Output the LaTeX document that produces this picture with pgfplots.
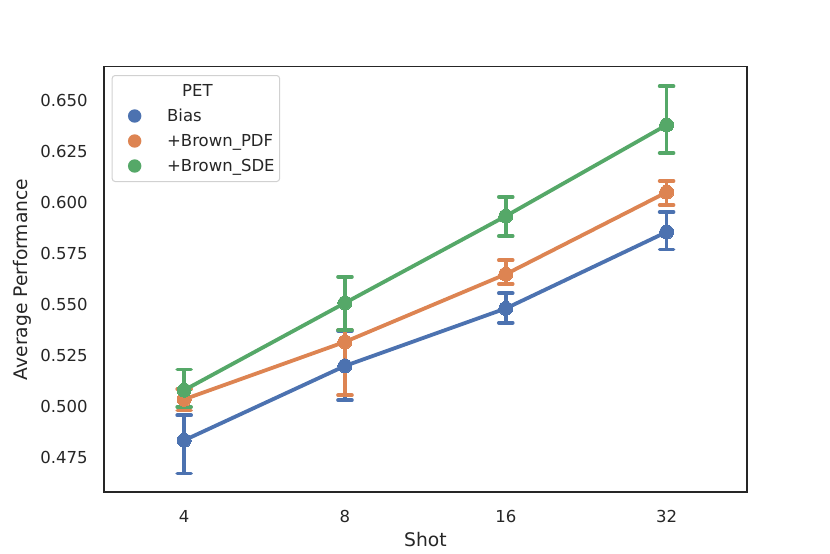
\documentclass[border=0pt]{standalone}
\usepackage{pgfplots}
\pgfplotsset{compat=1.18}
\usepackage{pgfplotstable}
\usepackage{fontspec}
\setmainfont{DejaVu Sans}
\definecolor{sbblue}{HTML}{4C72B0}
\definecolor{sborange}{HTML}{DD8452}
\definecolor{sbgreen}{HTML}{55A868}
\definecolor{axgray}{HTML}{262626}

\pgfplotstableread{
x y ep em
0 0.4833 0.0123 0.0163
1 0.5198 0.0172 0.0168
2 0.5480 0.0075 0.0070
3 0.5855 0.0098 0.0085
}\bias
\pgfplotstableread{
x y ep em
0 0.5034 0.0050 0.0054
1 0.5316 0.0060 0.0262
2 0.5648 0.0069 0.0048
3 0.6050 0.0055 0.0063
}\pdf
\pgfplotstableread{
x y ep em
0 0.5079 0.0101 0.0082
1 0.5507 0.0128 0.0134
2 0.5933 0.0094 0.0098
3 0.6380 0.0190 0.0137
}\sde

\pgfplotsset{myerr/.style={line width=3.8bp, mark=*, mark size=7bp,
    mark options={fill=#1, draw=#1, line width=0pt}, color=#1,
    error bars/.cd, y dir=both, y explicit,
    error bar style={line width=3.6bp, color=#1},
    error mark options={rotate=90, line width=3.6bp, mark size=7bp, color=#1, line cap=round}}}

\begin{document}
\begin{tikzpicture}[font=\fontsize{16.5bp}{19bp}\selectfont]
\begin{axis}[
  name=ax,
  scale only axis,
  width=643.25bp, height=425.8bp,
  xmin=-0.5, xmax=3.5,
  ymin=0.4578, ymax=0.6667,
  xtick={0,1,2,3},
  xticklabels={4,8,16,32},
  ytick={0.475,0.5,0.525,0.55,0.575,0.6,0.625,0.65},
  yticklabels={0.475,0.500,0.525,0.550,0.575,0.600,0.625,0.650},
  major tick length=0pt,
  axis line style={draw=axgray, line width=1.8bp},
  xticklabel style={anchor=base, inner sep=0pt, yshift=-29.7bp, text=axgray},
  yticklabel style={anchor=east, inner sep=0pt, xshift=-16bp, text=axgray},
  /pgf/number format/assume math mode=true,
  xlabel={Shot},
  ylabel={Average Performance},
  xlabel style={at={(axis description cs:0.5,-0.1284)}, anchor=base, inner sep=0pt, text=axgray, font=\fontsize{18.7bp}{22bp}\selectfont},
  ylabel style={at={(axis description cs:-0.126,0.5)}, anchor=center, inner sep=0pt, text=axgray, font=\fontsize{18.7bp}{22bp}\selectfont},
  legend style={
    at={(axis description cs:0.0123,0.980)}, anchor=north west,
    draw=black!18, line width=1bp, rounded corners=3bp, fill=white,
    inner xsep=1bp, inner ysep=3bp, row sep=0pt, column sep=0pt,
    nodes={inner sep=0pt, minimum height=25bp, text=axgray},
  },
  legend cell align=left,
  legend image code/.code={\path[draw=none, fill=none] (0bp,-6.5bp) rectangle (54bp,6.5bp); \fill[draw=none] (21.5bp,0bp) circle (6.7bp);},
]
\addlegendimage{empty legend}
\addlegendentry{\hspace*{15bp}PET}
\addplot[myerr=sbblue] table[x=x, y=y, y error plus=ep, y error minus=em] {\bias};
\addlegendentry{Bias}
\addplot[myerr=sborange] table[x=x, y=y, y error plus=ep, y error minus=em] {\pdf};
\addlegendentry{+Brown\_PDF}
\addplot[myerr=sbgreen] table[x=x, y=y, y error plus=ep, y error minus=em] {\sde};
\addlegendentry{+Brown\_SDE\hspace*{4bp}}
\end{axis}
\path ([shift={(-103.75bp,-61.7bp)}]ax.south west) rectangle ([shift={(83bp,66.5bp)}]ax.north east);
\end{tikzpicture}
\end{document}
